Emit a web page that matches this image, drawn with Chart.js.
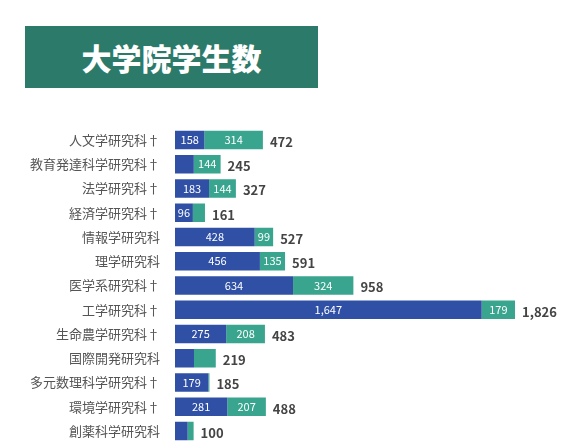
<!DOCTYPE html>
<html><head><meta charset="utf-8">
<script src="https://cdn.jsdelivr.net/npm/chart.js@4"></script>
<style>
html,body{margin:0;padding:0;width:572px;height:448px;overflow:hidden;background:#fff;font-family:"Noto Sans CJK JP",sans-serif;}
#title{position:absolute;left:25px;top:26px;width:293px;height:62px;background:#2c7a6a;color:#fff;font-weight:900;font-size:30px;display:flex;align-items:center;justify-content:center;}
#wrap{position:absolute;left:0;top:113px;width:572px;height:350px;}
</style></head><body>
<div id="title">大学院学生数</div>
<div id="wrap"><canvas id="c" width="572" height="345" style="width:572px;height:345px"></canvas></div>
<script>
const categories=["人文学研究科†","教育発達科学研究科†","法学研究科†","経済学研究科†","情報学研究科","理学研究科","医学系研究科†","工学研究科†","生命農学研究科†","国際開発研究科","多元数理科学研究科†","環境学研究科†","創薬科学研究科"];
const seriesA=[158,101,183,96,428,456,634,1647,275,102,179,281,68];
const seriesB=[314,144,144,65,99,135,324,179,208,117,6,207,32];
const totals=seriesA.map((v,i)=>v+seriesB[i]);
const fmt=n=>n.toLocaleString('en-US');
const labelPlugin={id:'lbl',afterDatasetsDraw(chart){
  const ctx=chart.ctx;ctx.save();ctx.textBaseline='middle';
  chart.data.datasets.forEach((ds,di)=>{
    chart.getDatasetMeta(di).data.forEach((bar,i)=>{
      const w=Math.abs(bar.x-bar.base);const t=fmt(ds.data[i]);
      ctx.font='11px "Noto Sans CJK JP", sans-serif';
      if(ctx.measureText(t).width+4<=w){ctx.fillStyle='#fff';ctx.textAlign='center';ctx.fillText(t,(bar.x+bar.base)/2,bar.y);}
    });
  });
  const last=chart.getDatasetMeta(1).data;
  ctx.font='bold 13px "Noto Sans CJK JP", sans-serif';ctx.fillStyle='#444';ctx.textAlign='left';
  last.forEach((bar,i)=>ctx.fillText(fmt(totals[i]),bar.x+7,bar.y+2));
  ctx.restore();
}};
new Chart(document.getElementById('c'),{type:'bar',
 data:{labels:categories,datasets:[
  {data:seriesA,backgroundColor:'#2f50a5',barPercentage:0.76,categoryPercentage:1},
  {data:seriesB,backgroundColor:'#3aa58e',barPercentage:0.76,categoryPercentage:1}]},
 options:{indexAxis:'y',responsive:false,animation:false,
  layout:{padding:{left:0,right:0,top:0,bottom:0}},
  plugins:{legend:{display:false},tooltip:{enabled:false}},
  scales:{x:{stacked:true,min:0,max:2132,display:false},
   y:{stacked:true,grid:{display:false},border:{display:false},
    afterFit(s){s.width=175;},
    ticks:{color:'#555',padding:7,font:{size:13,family:'"Noto Sans CJK JP", sans-serif'}}}}},
 plugins:[labelPlugin]});
</script>
</body></html>
